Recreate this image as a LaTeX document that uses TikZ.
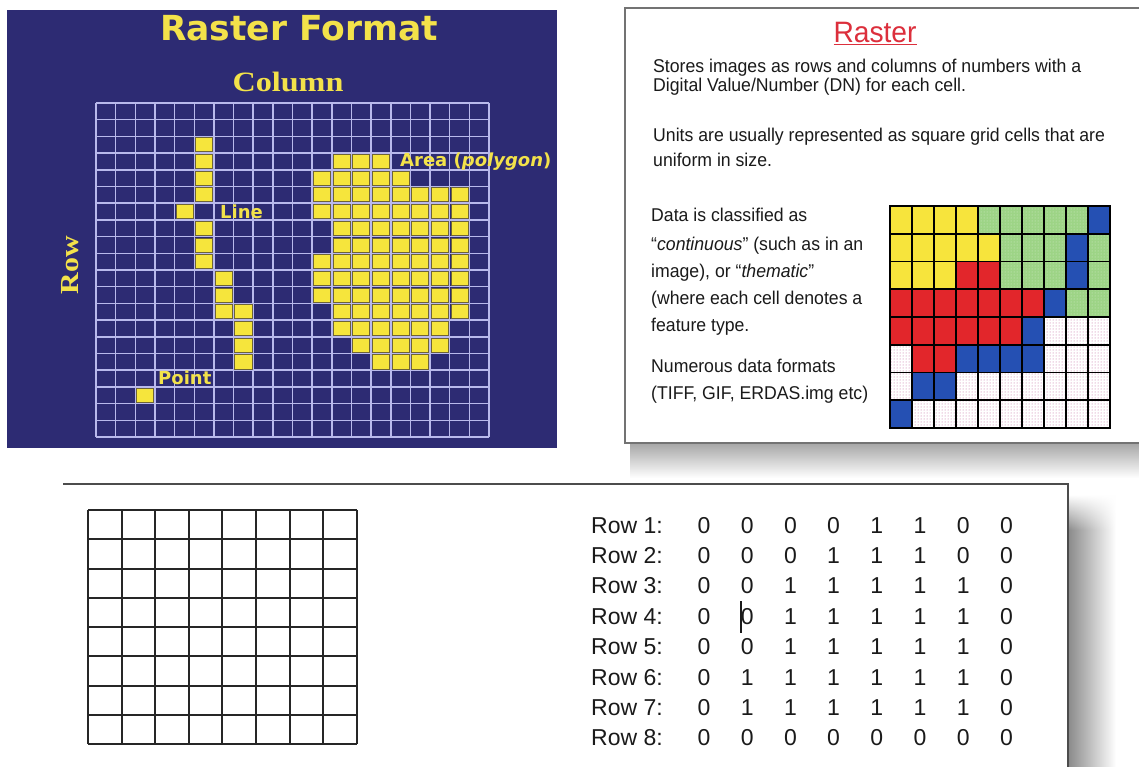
\documentclass[tikz,border=0pt]{standalone}
\usepackage{fontspec}
\setmainfont{Liberation Sans}
\newfontfamily\dvs{DejaVu Sans}
\newfontfamily\tmsw[FakeStretch=1.15]{Liberation Serif}
\newfontfamily\arn[FakeStretch=0.955]{Liberation Sans}
\usetikzlibrary{patterns,fadings}
\definecolor{navy}{HTML}{2D2B73}
\definecolor{glav}{HTML}{B9B9EC}
\definecolor{ycell}{HTML}{F6E53C}
\definecolor{yedge}{HTML}{6E6436}
\definecolor{ytext}{HTML}{F3E24A}
\definecolor{cR}{HTML}{E2262B}
\definecolor{cG}{HTML}{9DD486}
\definecolor{cB}{HTML}{2550B3}
\definecolor{cY}{HTML}{F7E43C}
\definecolor{cW}{HTML}{FFFFFF}
\definecolor{rtitle}{HTML}{DC2F3C}
\definecolor{pdot}{HTML}{C0609A}
\definecolor{txt}{HTML}{1A1A1A}
\def\tW{W}\def\tG{G}
\tikzset{
  gl/.style={glav, line width=1.5pt},
  ybox/.style={fill=ycell, draw=yedge, line width=0.8pt},
  lbl/.style={text=ytext, inner sep=0pt, font=\dvs\bfseries\fontsize{18}{20}\selectfont},
  body/.style={text=txt, inner sep=0pt, anchor=base west, font=\arn\fontsize{18.5}{20}\selectfont},
  rowtxt/.style={text=txt, inner sep=0pt, font=\fontsize{23}{25}\selectfont},
  cgl/.style={black, line width=1.6pt},
  bgl/.style={black!85, line width=2pt}
}
\begin{document}
\begin{tikzpicture}[x=1pt,y=-1pt]
\useasboundingbox (0,0) rectangle (1139,767);
\fill[white] (0,0) rectangle (1139,767);

% ---------- top-left panel ----------
\fill[navy] (7,10) rectangle (557,448);
\foreach \i in {0,...,20} \draw[gl] ({96+19.65*\i},103) -- ({96+19.65*\i},437);
\foreach \j in {0,...,20} \draw[gl] (96,{103+16.7*\j}) -- (489,{103+16.7*\j});
% line + point
\foreach \c/\r in {5/2,5/3,5/4,5/5,4/6,5/7,5/8,5/9,6/10,6/11,6/12,7/12,7/13,7/14,7/15,2/17}
  \draw[ybox] ({96+19.65*\c+1.3},{103+16.7*\r+1.3}) rectangle ({96+19.65*(\c+1)-1.3},{103+16.7*(\r+1)-1.3});
% area
\foreach \r/\a/\b in {3/12/14,4/11/15,5/11/18,6/11/18,7/12/18,8/12/18,9/11/18,10/11/18,11/11/18,12/12/18,13/12/17,14/13/17,15/14/16}
  \foreach \c in {\a,...,\b}
    \draw[ybox] ({96+19.65*\c+1.3},{103+16.7*\r+1.3}) rectangle ({96+19.65*(\c+1)-1.3},{103+16.7*(\r+1)-1.3});
\node[text=ytext, font=\dvs\bfseries\fontsize{34.5}{37}\selectfont] (title) at (299,28) {Raster Format};
\node[text=ytext, font=\tmsw\bfseries\fontsize{28}{30}\selectfont] (colhdr) at (288,82) {Column};
\node[text=ytext, rotate=90, font=\tmsw\bfseries\fontsize{26}{28}\selectfont] (rowhdr) at (70,265) {Row};
\node[lbl, anchor=west] (linelbl) at (220,211.5) {Line};
\node[lbl, anchor=west] (pointlbl) at (158,378) {Point};
\node[lbl, anchor=west] (arealbl) at (400,161.5) {Area (\textit{polygon})};

% ---------- top-right panel ----------
\shade[top color=black!35, bottom color=white] (630,443) rectangle (1139,478);
\filldraw[fill=white, draw=black!55, line width=1.5pt] (625,8) rectangle (1150,443);
\node[text=rtitle, anchor=base, inner sep=0pt, font=\arn\fontsize{29.5}{31}\selectfont] (rtitle) at (875,43) {\underline{Raster}};
\node[body] (t1) at (653,73) {Stores images as rows and columns of numbers with a};
\node[body] (t2) at (653,92) {Digital Value/Number (DN) for each cell.};
\node[body] (t3) at (653,142) {Units are usually represented as square grid cells that are};
\node[body] (t4) at (653,167) {uniform in size.};
\node[body] (t5) at (651,222) {Data is classified as};
\node[body] (t6) at (651,250) {“\textit{continuous}” (such as in an};
\node[body] (t7) at (651,277) {image), or “\textit{thematic}”};
\node[body] (t8) at (651,304) {(where each cell denotes a};
\node[body] (t9) at (651,331) {feature type.};
\node[body] (t10) at (651,372) {Numerous data formats};
\node[body] (t11) at (651,399) {(TIFF, GIF, ERDAS.img etc)};
% classified grid
\foreach \r/\row in {0/{Y,Y,Y,Y,G,G,G,G,G,B},1/{Y,Y,Y,Y,Y,G,G,G,B,G},2/{Y,Y,Y,R,R,G,G,G,B,G},3/{R,R,R,R,R,R,R,B,G,G},4/{R,R,R,R,R,R,B,W,W,W},5/{W,R,R,B,B,B,B,W,W,W},6/{W,B,B,W,W,W,W,W,W,W},7/{B,W,W,W,W,W,W,W,W,W}}
  \foreach \v [count=\c from 0] in \row {
    \fill[c\v] ({890+22*\c},{206+27.75*\r}) rectangle ({890+22*(\c+1)},{206+27.75*(\r+1)});
    \ifx\v\tW \fill[pattern=dots, pattern color=pdot] ({890+22*\c},{206+27.75*\r}) rectangle ({890+22*(\c+1)},{206+27.75*(\r+1)});\fi
    \ifx\v\tG \fill[pattern=dots, pattern color=white!55!cG] ({890+22*\c},{206+27.75*\r}) rectangle ({890+22*(\c+1)},{206+27.75*(\r+1)});\fi
  };
\foreach \i in {0,...,10} \draw[cgl] ({890+22*\i},206) -- ({890+22*\i},428);
\foreach \j in {0,...,8} \draw[cgl] (890,{206+27.75*\j}) -- (1110,{206+27.75*\j});
\draw[black, line width=2.2pt] (890,206) rectangle (1110,428);

% ---------- bottom panel ----------
\shade[left color=black!45, right color=white] (1069,530) rectangle (1116,767);
\shade[left color=black!45, right color=white, path fading=north] (1069,495) rectangle (1116,530);
\draw[black!70, line width=1.5pt] (63,484) -- (1068,484) -- (1068,768);
\foreach \i in {0,...,8} \draw[bgl] ({88+33.6*\i},510) -- ({88+33.6*\i},744);
\foreach \j in {0,...,8} \draw[bgl] (88,{510+29.25*\j}) -- (357,{510+29.25*\j});
\foreach \r/\vals [count=\k from 0] in {1/{0,0,0,0,1,1,0,0},2/{0,0,0,1,1,1,0,0},3/{0,0,1,1,1,1,1,0},4/{0,0,1,1,1,1,1,0},5/{0,0,1,1,1,1,1,0},6/{0,1,1,1,1,1,1,0},7/{0,1,1,1,1,1,1,0},8/{0,0,0,0,0,0,0,0}} {
  \node[rowtxt, anchor=base west] (rl\r) at (591,{533+30.4*\k}) {Row \r:};
  \foreach \v [count=\c from 0] in \vals
    \node[rowtxt, anchor=base] (d\r-\c) at ({704+43.2*\c},{533+30.4*\k}) {\v};
}
\draw[txt, line width=1.2pt] (741,601) -- (741,633);
\end{tikzpicture}
\end{document}
